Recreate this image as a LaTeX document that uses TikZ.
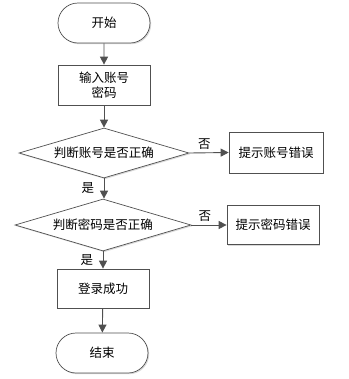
\documentclass[tikz,border=0pt]{standalone}
\usepackage{fontspec}
\newfontfamily\cjk{Noto Sans CJK SC}
\usetikzlibrary{shapes.geometric,shapes.misc,arrows.meta,shadows}
\definecolor{linec}{HTML}{505050}
\begin{document}
\begin{tikzpicture}[x=1bp,y=-1bp,
  every node/.style={font=\cjk\fontsize{12.5bp}{15bp}\selectfont, text=black},
  base/.style={draw=linec, line width=0.7bp, fill=white, inner sep=0pt,
    drop shadow={shadow xshift=1.2bp, shadow yshift=-1.2bp, fill=black!25, opacity=0.6}},
  term/.style={base, rounded rectangle, minimum width=92bp, minimum height=40bp},
  proc/.style={base, rectangle, minimum width=92bp, minimum height=40bp, align=center},
  dec/.style={base, diamond, aspect=3.4, minimum width=170bp, minimum height=50bp},
  arr/.style={draw=linec, line width=0.9bp, -{Triangle[length=8bp,width=8bp]}},
  lab/.style={font=\cjk\fontsize{12.5bp}{15bp}\selectfont}
]
\useasboundingbox (0,0) rectangle (349,379);
\node[term] (start) at (104,23) {开始};
\node[proc] (input) at (104,85) {输入账号\\密码};
\node[dec, minimum width=170bp, minimum height=50bp] (d1) at (104,153) {判断账号是否正确};
\node[proc, minimum width=94bp, minimum height=41bp] (e1) at (276,152.5) {提示账号错误};
\node[dec, minimum width=176bp, minimum height=52bp] (d2) at (103,225) {判断密码是否正确};
\node[proc, minimum width=92bp, minimum height=39bp] (e2) at (273,225) {提示密码错误};
\node[proc, minimum height=39bp] (ok) at (103,288.5) {登录成功};
\node[term] (end) at (102,353) {结束};
\draw[arr] (start) -- (input);
\draw[arr] (input.south) -- (input.south |- d1.north);
\draw[arr] (d1.east) -- (e1.west) node[lab, pos=0.38, above] {否};
\draw[arr] (d1.south) -- (d1.south |- d2.north) node[lab, midway, left, xshift=-6bp] {是};
\draw[arr] (d2.east) -- (e2.west) node[lab, pos=0.38, above] {否};
\draw[arr] (d2.south) -- (d2.south |- ok.north) node[lab, midway, left, xshift=-6bp] {是};
\draw[arr] (ok) -- (end);
\end{tikzpicture}
\end{document}
